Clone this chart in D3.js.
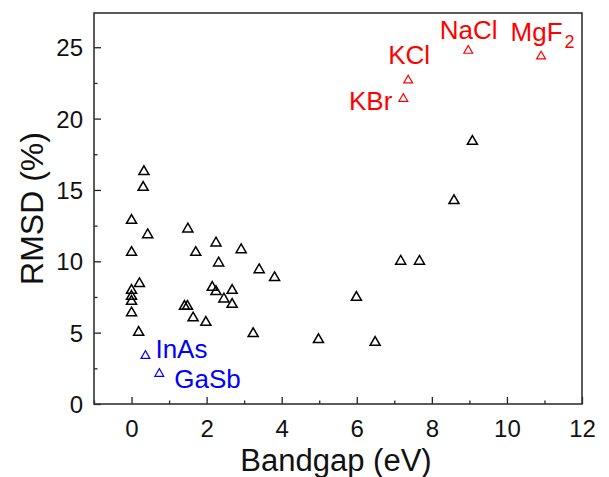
<!DOCTYPE html>
<html>
<head>
<meta charset="utf-8">
<script src="https://cdn.jsdelivr.net/npm/d3@7"></script>
<style>
  body { margin: 0; background: #fff; }
  text { font-family: "Liberation Sans", Arial, sans-serif; }
</style>
</head>
<body>
<script>
// black points: bandgap (eV) and RMSD (%)
const gapBlack = [0, 0.43, 0, 0.21, 0, 0, 0, 0, 0.19, 0.33, 0.31,
    1.5, 1.71, 1.41, 1.49, 1.64, 1.98, 2.25, 2.32, 2.15, 2.25, 2.46, 2.68, 2.68,
    2.92, 3.24, 3.4, 3.81, 4.98, 5.99, 6.49, 7.17, 7.67, 8.59, 9.08];
const rmsdBlack = [12.87, 11.86, 10.62, 8.43, 7.96, 7.54, 7.19, 6.38, 5.02, 16.28, 15.18,
    12.26, 10.62, 6.84, 6.84, 6.03, 5.72, 11.28, 9.88, 8.17, 7.87, 7.36, 7.96, 6.98,
    10.81, 4.93, 9.41, 8.85, 4.51, 7.47, 4.32, 10.0, 10.0, 14.25, 18.4];

// labelled red points (ionic)
const redNames = ["KBr", "KCl", "NaCl", "MgF"];
const gapRed = [7.24, 7.37, 8.97, 10.91];
const rmsdRed = [21.39, 22.68, 24.76, 24.36];

// labelled blue points
const blueNames = ["InAs", "GaSb"];
const gapBlue = [0.37, 0.74];
const rmsdBlue = [3.38, 2.12];

const xTicks = [0, 2, 4, 6, 8, 10, 12],
    xMinor = [-1, 1, 3, 5, 7, 9, 11],
    yTicks = [0, 5, 10, 15, 20, 25],
    yMinor = [2.5, 7.5, 12.5, 17.5, 22.5];

const width = 609,
    height = 477,
    margin = { top: 13, right: 27, bottom: 73, left: 94 },
    x = d3.scaleLinear().domain([-1, 12]).range([margin.left, width - margin.right]),
    y = d3.scaleLinear().domain([0, 27.4]).range([height - margin.bottom, margin.top]),
    svg = d3.select("body").append("svg")
        .attr("width", width)
        .attr("height", height);

const axisColor = "#222";

// ticks (inward)
const xAxis = svg.append("g")
    .attr("transform", "translate(0," + y(0) + ")")
    .call(d3.axisBottom(x).tickValues(xTicks).tickSize(-7).tickPadding(11).tickFormat(d3.format("d")));
const xAxisMinor = svg.append("g")
    .attr("transform", "translate(0," + y(0) + ")")
    .call(d3.axisBottom(x).tickValues(xMinor).tickSize(-3.5).tickFormat(""));
const yAxis = svg.append("g")
    .attr("transform", "translate(" + x(-1) + ",0)")
    .call(d3.axisLeft(y).tickValues(yTicks).tickSize(-7).tickPadding(11).tickFormat(d3.format("d")));
const yAxisMinor = svg.append("g")
    .attr("transform", "translate(" + x(-1) + ",0)")
    .call(d3.axisLeft(y).tickValues(yMinor).tickSize(-3.5).tickFormat(""));

[xAxis, xAxisMinor, yAxis, yAxisMinor].forEach(g => {
    g.select(".domain").remove();
    g.selectAll("line").attr("stroke", axisColor).attr("stroke-width", 1.3);
    g.selectAll("text")
        .attr("fill", "#111")
        .style("font-family", "'Liberation Sans', Arial, sans-serif")
        .style("font-size", "24px");
});
xAxis.selectAll("text").attr("dy", "0.93em");
yAxis.selectAll("text").attr("dy", "0.36em");

// frame
svg.append("rect")
    .attr("x", x(-1))
    .attr("y", y(27.4))
    .attr("width", x(12) - x(-1))
    .attr("height", y(0) - y(27.4))
    .attr("fill", "none")
    .attr("stroke", "#333")
    .attr("stroke-width", 1.6);

// axis titles
svg.append("text")
    .attr("x", (x(-1) + x(12)) / 2 - 2)
    .attr("y", 471)
    .attr("text-anchor", "middle")
    .style("font-size", "31px")
    .attr("fill", "#111")
    .text("Bandgap (eV)");

svg.append("text")
    .attr("transform", "translate(43," + (y(0) + y(27.4)) / 2 + ") rotate(-90)")
    .attr("text-anchor", "middle")
    .style("font-size", "32px")
    .attr("fill", "#111")
    .text("RMSD (%)");

const tri = d3.symbol().type(d3.symbolTriangle);

// black markers
svg.append("g").selectAll("path")
    .data(gapBlack.map((g, i) => [g, rmsdBlack[i]]))
    .join("path")
    .attr("transform", d => "translate(" + x(d[0]) + "," + y(d[1]) + ")")
    .attr("d", tri.size(44))
    .attr("fill", "none")
    .attr("stroke", "#000")
    .attr("stroke-width", 1.5);

// red markers + labels
const red = "#ff0000";
svg.append("g").selectAll("path")
    .data(gapRed.map((g, i) => [g, rmsdRed[i]]))
    .join("path")
    .attr("transform", d => "translate(" + x(d[0]) + "," + y(d[1]) + ")")
    .attr("d", tri.size(34))
    .attr("fill", "none")
    .attr("stroke", red)
    .attr("stroke-width", 1.2);

// label offsets (px) relative to each point: dx, dy, anchor
const redOffsets = [[-11, 11, "end"], [1, -16, "middle"], [-28.5, -12, "start"], [-30.5, -15, "start"]];
const redLabels = svg.append("g").selectAll("text")
    .data(redNames)
    .join("text")
    .attr("x", (d, i) => x(gapRed[i]) + redOffsets[i][0])
    .attr("y", (d, i) => y(rmsdRed[i]) + redOffsets[i][1])
    .attr("text-anchor", (d, i) => redOffsets[i][2])
    .attr("fill", red)
    .style("font-size", "26px")
    .text(d => d);
redLabels.filter(d => d === "MgF")
    .append("tspan")
    .attr("dx", 2)
    .attr("dy", 7)
    .style("font-size", "18px")
    .text("2");

// blue markers + labels
const blue = "#0000ff";
svg.append("g").selectAll("path")
    .data(gapBlue.map((g, i) => [g, rmsdBlue[i]]))
    .join("path")
    .attr("transform", d => "translate(" + x(d[0]) + "," + y(d[1]) + ")")
    .attr("d", tri.size(34))
    .attr("fill", "none")
    .attr("stroke", blue)
    .attr("stroke-width", 1.2);

const blueOffsets = [[10, 2], [15, 14]];
svg.append("g").selectAll("text")
    .data(blueNames)
    .join("text")
    .attr("x", (d, i) => x(gapBlue[i]) + blueOffsets[i][0])
    .attr("y", (d, i) => y(rmsdBlue[i]) + blueOffsets[i][1])
    .attr("fill", blue)
    .style("font-size", "26px")
    .text(d => d);
</script>
</body>
</html>
